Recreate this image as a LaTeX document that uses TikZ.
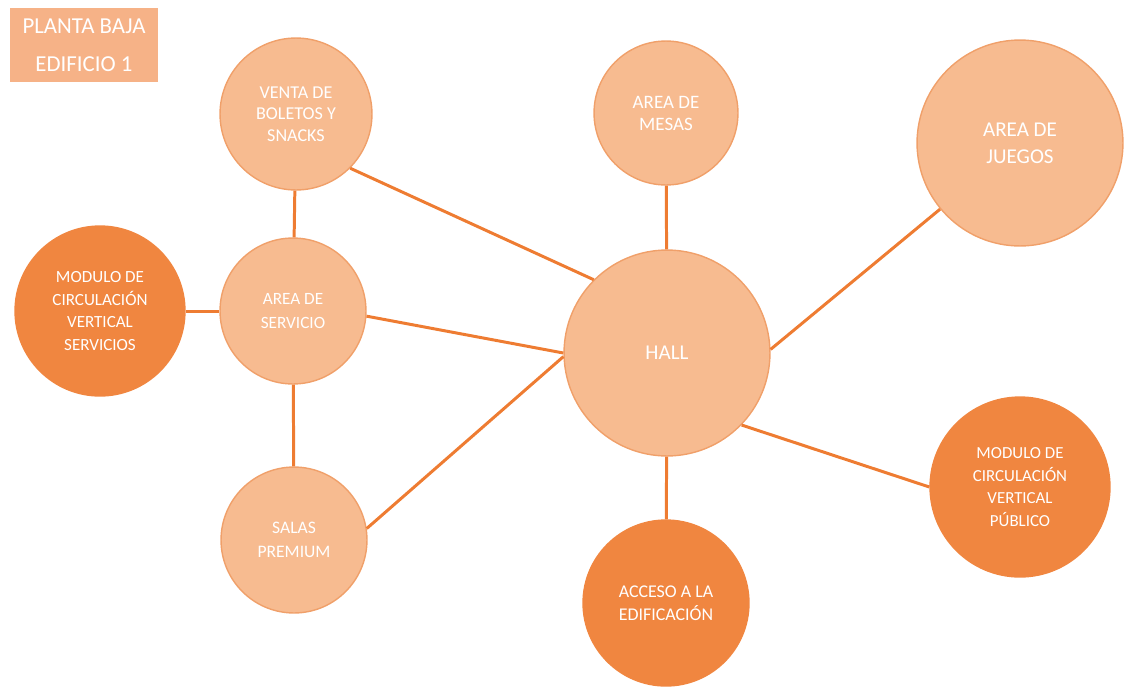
\documentclass[tikz,border=0pt]{standalone}
\usepackage{fontspec}
\setmainfont{Carlito}
\definecolor{lightor}{HTML}{F7BB90}
\definecolor{lightbd}{HTML}{F0A06A}
\definecolor{darkor}{HTML}{F08640}
\definecolor{linkor}{HTML}{EE7C32}
\definecolor{titleor}{HTML}{F6B287}
\tikzset{
  lbub/.style={circle, fill=lightor, draw=lightbd, line width=0.8pt, minimum size=#1*0.04cm, inner sep=0pt, align=center, text=white},
  dbub/.style={circle, fill=darkor, draw=darkor, line width=0.8pt, minimum size=#1*0.04cm, inner sep=0pt, align=center, text=white},
  small/.style={font=\fontsize{9}{12.3}\selectfont},
  big/.style={font=\fontsize{12}{15.3}\selectfont},
  link/.style={draw=linkor, line width=1.7pt},
}
\begin{document}
\begin{tikzpicture}[x=0.02cm, y=-0.02cm]
\useasboundingbox (0,0) rectangle (1128,687);
% title
\node[fill=titleor, minimum width=148*0.02cm, minimum height=74*0.02cm, inner sep=0pt, text=white, align=center, font=\fontsize{13}{21.5}\selectfont] (title) at (84,45) {PLANTA BAJA\\EDIFICIO 1};
% nodes
\node[lbub=76, font=\fontsize{10.3}{12.3}\selectfont] (venta) at (296,114) {VENTA DE\\BOLETOS Y\\SNACKS};
\node[lbub=72, font=\fontsize{10.8}{12.5}\selectfont] (mesas) at (666,113) {AREA DE\\MESAS};
\node[lbub=103, big] (juegos) at (1020,143) {AREA DE\\JUEGOS};
\node[dbub=85, font=\fontsize{9.7}{12.8}\selectfont] (mserv) at (100,311) {MODULO DE\\CIRCULACIÓN\\VERTICAL\\SERVICIOS};
\node[lbub=73, font=\fontsize{9.8}{13.5}\selectfont] (serv) at (293,311) {AREA DE\\SERVICIO};
\node[lbub=103, big] (hall) at (667,353) {HALL};
\node[lbub=73, font=\fontsize{10}{14}\selectfont] (salas) at (294,540) {SALAS\\PREMIUM};
\node[dbub=83, font=\fontsize{10.2}{13}\selectfont] (acceso) at (666,603) {ACCESO A LA\\EDIFICACIÓN};
\node[dbub=90, font=\fontsize{9.6}{12.8}\selectfont] (mpub) at (1020,487) {MODULO DE\\CIRCULACIÓN\\VERTICAL\\PÚBLICO};
% links
\path[link] (venta) -- (serv);
\path[link] (serv) -- (salas);
\path[link] (mserv) -- (serv);
\path[link] (venta.-45) -- (hall.135);
\path[link] (serv.-4) -- (hall.180);
\path[link] (salas.9) -- (hall.182);
\path[link] (mesas) -- (hall);
\path[link] (hall) -- (acceso);
\path[link] (juegos) -- (hall.2);
\path[link] (hall.-44) -- (mpub.180);
\end{tikzpicture}
\end{document}
